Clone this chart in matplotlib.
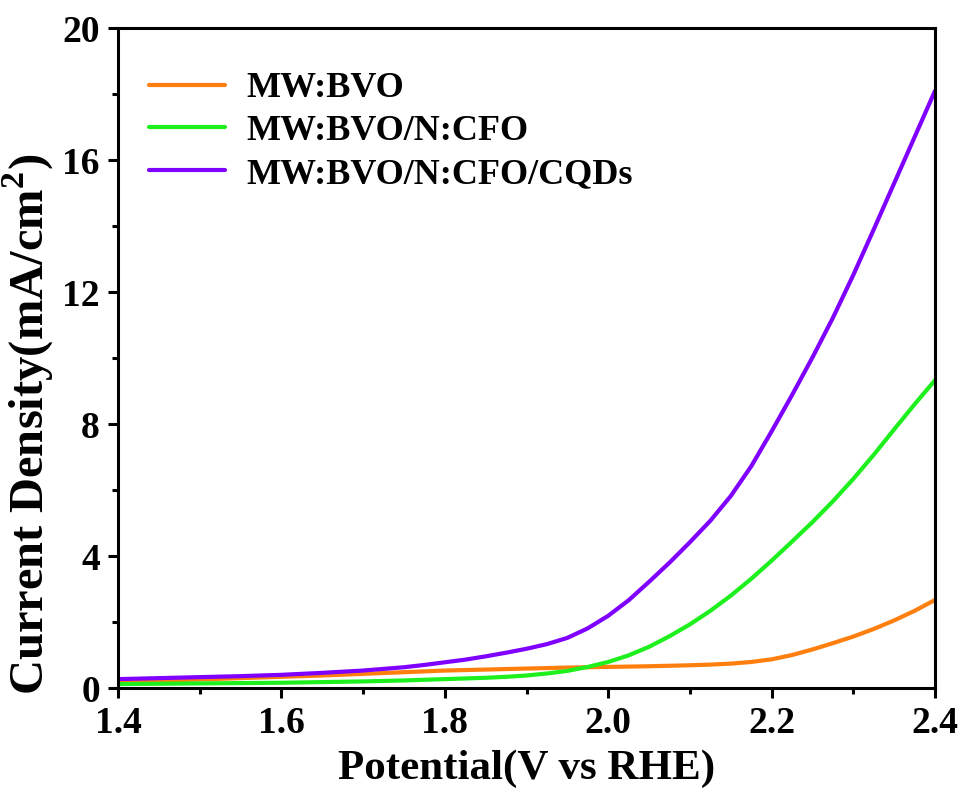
import numpy as np
import matplotlib
matplotlib.use('Agg')
import matplotlib.pyplot as plt
from matplotlib.ticker import MultipleLocator, FormatStrFormatter

# 電位 (V vs RHE), 0.025刻み
potential = [1.400, 1.425, 1.450, 1.475, 1.500, 1.525, 1.550, 1.575, 1.600, 1.625,
             1.650, 1.675, 1.700, 1.725, 1.750, 1.775, 1.800, 1.825, 1.850, 1.875,
             1.900, 1.925, 1.950, 1.975, 2.000, 2.025, 2.050, 2.075, 2.100, 2.125,
             2.150, 2.175, 2.200, 2.225, 2.250, 2.275, 2.300, 2.325, 2.350, 2.375,
             2.400]

# 電流密度 (mA/cm2)
bvo = [0.19, 0.205, 0.22, 0.24, 0.26, 0.28, 0.30, 0.32, 0.34, 0.36,
       0.38, 0.405, 0.43, 0.455, 0.48, 0.505, 0.53, 0.545, 0.56, 0.575,
       0.59, 0.605, 0.62, 0.63, 0.64, 0.65, 0.66, 0.675, 0.69, 0.71,
       0.74, 0.79, 0.87, 1.00, 1.17, 1.36, 1.56, 1.79, 2.05, 2.34,
       2.67]
bvo_cfo = [0.12, 0.125, 0.13, 0.135, 0.14, 0.145, 0.15, 0.155, 0.16, 0.17,
           0.18, 0.19, 0.20, 0.215, 0.23, 0.25, 0.27, 0.29, 0.31, 0.34,
           0.38, 0.44, 0.52, 0.64, 0.79, 0.99, 1.25, 1.57, 1.93, 2.34,
           2.80, 3.31, 3.86, 4.44, 5.03, 5.66, 6.34, 7.07, 7.84, 8.60,
           9.33]
bvo_cfo_cqd = [0.27, 0.285, 0.30, 0.315, 0.33, 0.345, 0.36, 0.38, 0.40, 0.43,
               0.46, 0.495, 0.53, 0.58, 0.63, 0.70, 0.78, 0.86, 0.96, 1.07,
               1.19, 1.33, 1.52, 1.81, 2.19, 2.66, 3.22, 3.80, 4.42, 5.07,
               5.82, 6.72, 7.78, 8.88, 10.02, 11.22, 12.52, 13.90, 15.30, 16.70,
               18.10]

labels = ['MW:BVO', 'MW:BVO/N:CFO', 'MW:BVO/N:CFO/CQDs']
colors = ['#ff7f0e', '#1ef01e', '#7f00ff']

plt.rcParams['font.family'] = ['Liberation Serif', 'DejaVu Serif']
plt.rcParams['font.weight'] = 'bold'
plt.rcParams['mathtext.fontset'] = 'custom'
plt.rcParams['mathtext.bf'] = 'Liberation Serif:bold'
plt.rcParams['mathtext.rm'] = 'Liberation Serif:bold'

fig = plt.figure(figsize=(9.63, 8.05), dpi=100)
ax = fig.add_axes([0.1225, 0.1453, 0.8485, 0.8199])

for y, lab, c in zip([bvo, bvo_cfo, bvo_cfo_cqd], labels, colors):
    ax.plot(potential, y, color=c, lw=3.0, label=lab, solid_capstyle='round')

ax.set_xlim(1.4, 2.4)
ax.set_ylim(0, 20)
ax.xaxis.set_major_locator(MultipleLocator(0.2))
ax.xaxis.set_minor_locator(MultipleLocator(0.1))
ax.yaxis.set_major_locator(MultipleLocator(4))
ax.yaxis.set_minor_locator(MultipleLocator(2))
ax.xaxis.set_major_formatter(FormatStrFormatter('%.1f'))

for s in ax.spines.values():
    s.set_linewidth(2.2)
ax.tick_params(which='major', direction='out', length=7, width=2.2, labelsize=27, pad=6)
ax.tick_params(which='minor', direction='out', length=4, width=2.2)
ax.tick_params(top=False, right=False, which='both')

ax.set_xlabel('Potential(V vs RHE)', fontsize=31, fontweight='bold', labelpad=6)
ax.set_ylabel(r'Current Density(mA/cm$^{\mathbf{2}}$)', fontsize=35, fontweight='bold')
ax.yaxis.set_label_coords(-0.076, 0.40)

leg = ax.legend(loc='upper left', bbox_to_anchor=(0.02, 0.955), frameon=False,
                prop={'size': 26, 'weight': 'bold'}, handlelength=2.1,
                labelspacing=0.26, handletextpad=0.6, borderaxespad=0.0)

fig.savefig('out.png', dpi=100)
